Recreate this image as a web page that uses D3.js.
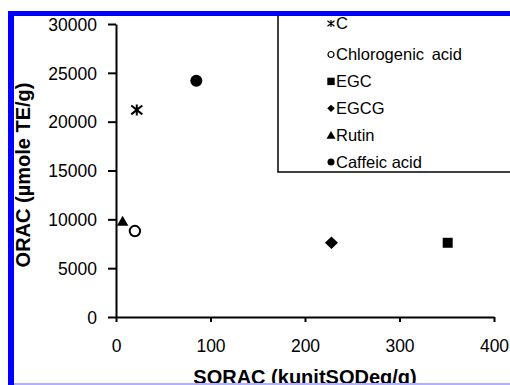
<!DOCTYPE html>
<html>
<head>
<meta charset="utf-8">
<script src="https://cdn.jsdelivr.net/npm/d3@7"></script>
<style>
  body { margin: 0; background: #fff; }
  svg { display: block; font-family: Arial, 'Liberation Sans', sans-serif; }
</style>
</head>
<body>
<div id="chart"></div>
<script>
// Data
const compounds = ['C', 'Chlorogenic acid', 'EGC', 'EGCG', 'Rutin', 'Caffeic acid']
const sorac = [22, 20, 351, 228, 7, 85]
const orac = [21200, 8800, 7600, 7600, 9800, 24200]
const markers = ['asterisk', 'openCircle', 'square', 'diamond', 'triangle', 'circle']
const xTicks = [0, 100, 200, 300, 400]
const yTicks = [0, 5000, 10000, 15000, 20000, 25000, 30000]

const width = 510
const height = 385

const svg = d3.select('#chart')
  .append('svg')
  .attr('width', width)
  .attr('height', height)

const x = d3.scaleLinear().domain([0, 400]).range([116, 494])
const y = d3.scaleLinear().domain([0, 30000]).range([317, 24])

// custom marker paths, s = half size
function markerPath (type, s) {
  const p = d3.path()
  if (type === 'asterisk') {
    p.moveTo(-s, -s * 0.8); p.lineTo(s, s * 0.8)
    p.moveTo(-s, s * 0.8); p.lineTo(s, -s * 0.8)
    p.moveTo(0, -s); p.lineTo(0, s)
  } else if (type === 'square') {
    p.rect(-s, -s, 2 * s, 2 * s)
  } else if (type === 'diamond') {
    p.moveTo(0, -s); p.lineTo(s * 1.05, 0); p.lineTo(0, s); p.lineTo(-s * 1.05, 0); p.closePath()
  } else if (type === 'triangle') {
    p.moveTo(0, -s); p.lineTo(s * 1.05, s * 0.8); p.lineTo(-s * 1.05, s * 0.8); p.closePath()
  } else {
    p.arc(0, 0, s, 0, 2 * Math.PI)
  }
  return p.toString()
}

function styleMarker (sel, type) {
  if (type === 'asterisk') {
    sel.attr('fill', 'none').attr('stroke', '#000').attr('stroke-width', 2)
  } else if (type === 'openCircle') {
    sel.attr('fill', '#fff').attr('stroke', '#000').attr('stroke-width', 2)
  } else {
    sel.attr('fill', '#000').attr('stroke', 'none')
  }
}

const plotSize = { asterisk: 5.5, openCircle: 5.2, square: 5, diamond: 6.2, triangle: 5.5, circle: 6 }
const legSize = { asterisk: 3.5, openCircle: 3, square: 3.7, diamond: 3.6, triangle: 4.3, circle: 3.5 }

// axes
const xAxis = svg.append('g')
  .attr('transform', `translate(0,${y(0)})`)
  .call(d3.axisBottom(x).tickValues(xTicks).tickSize(5).tickSizeOuter(0).tickPadding(18))
const yAxis = svg.append('g')
  .attr('transform', `translate(${x(0)},0)`)
  .call(d3.axisLeft(y).tickValues(yTicks).tickSize(8).tickSizeOuter(0).tickPadding(11).tickFormat(d3.format('d')))

;[xAxis, yAxis].forEach(a => {
  a.selectAll('path, line').attr('stroke', '#000').attr('stroke-width', 2)
  a.selectAll('text')
    .attr('fill', '#000')
    .style('font-size', '17.5px')
    .style('font-family', 'Arial, Liberation Sans, sans-serif')
})
yAxis.selectAll('text').attr('dy', '0.36em')

// points
compounds.forEach((c, i) => {
  const m = svg.append('path')
    .attr('d', markerPath(markers[i], plotSize[markers[i]]))
    .attr('transform', `translate(${x(sorac[i])},${y(orac[i])})`)
  styleMarker(m, markers[i])
})

// legend
const legend = svg.append('g')
legend.append('rect')
  .attr('x', 278)
  .attr('y', 0)
  .attr('width', 250)
  .attr('height', 172)
  .attr('fill', 'none')
  .attr('stroke', '#000')
  .attr('stroke-width', 1.5)

compounds.forEach((c, i) => {
  const ly = i === 0 ? 23.5 : 54.5 + (i - 1) * 26.9
  const m = legend.append('path')
    .attr('d', markerPath(markers[i], legSize[markers[i]]))
    .attr('transform', `translate(331,${ly})`)
  styleMarker(m, markers[i])
  if (markers[i] === 'openCircle' || markers[i] === 'asterisk') m.attr('stroke-width', 1.2)
  legend.append('text')
    .attr('x', 336)
    .attr('y', ly)
    .attr('dy', '0.36em')
    .style('font-size', '16.5px')
    .style('word-spacing', c === 'Chlorogenic acid' ? '3px' : '0px')
    .text(c)
})

// axis titles
svg.append('text')
  .attr('x', 305)
  .attr('y', 384)
  .attr('text-anchor', 'middle')
  .style('font-size', '20px')
  .style('font-weight', 'bold')
  .text('SORAC (kunitSODeq/g)')

svg.append('text')
  .attr('transform', 'translate(30,175) rotate(-90)')
  .attr('text-anchor', 'middle')
  .style('font-size', '20px')
  .style('font-weight', 'bold')
  .text('ORAC (µmole TE/g)')

// frame of the scanned figure
svg.append('rect').attr('x', 0).attr('y', 0).attr('width', width).attr('height', 11).attr('fill', '#fff')
svg.append('rect').attr('x', 0).attr('y', 0).attr('width', 8).attr('height', height).attr('fill', '#fff')
svg.append('rect').attr('x', 8).attr('y', 11).attr('width', width - 8).attr('height', 5).attr('fill', '#0000ff')
svg.append('rect').attr('x', 8).attr('y', 11).attr('width', 6).attr('height', height - 11).attr('fill', '#0000ff')
svg.append('rect').attr('x', 14).attr('y', 383).attr('width', width - 14).attr('height', 2).attr('fill', '#b0b0ff')
</script>
</body>
</html>
